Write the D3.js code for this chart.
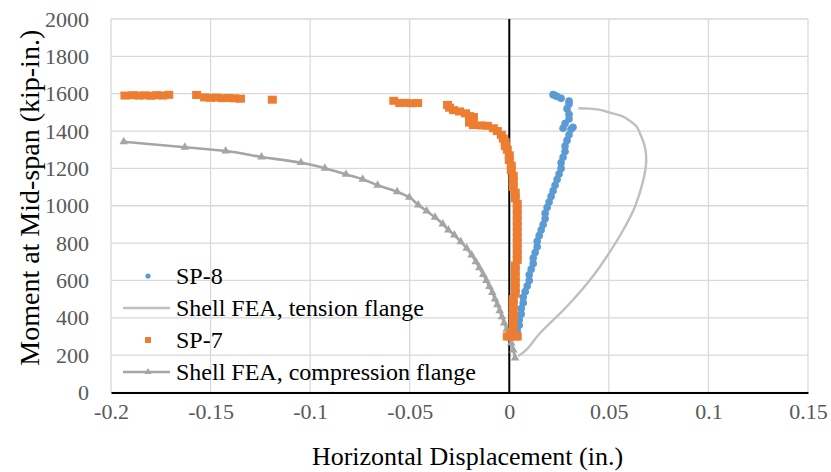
<!DOCTYPE html>
<html>
<head>
<meta charset="utf-8">
<script src="https://cdn.jsdelivr.net/npm/d3@7"></script>
<style>
  body { margin: 0; background: #fff; }
  svg text { font-family: "Liberation Serif", Tinos, "Times New Roman", "DejaVu Serif", serif; }
</style>
</head>
<body>
<div id="chart"></div>
<script>
// x = horizontal displacement (in.), m = moment (kip-in.)
var sp8X = [0.003, 0.004, 0.005, 0.005, 0.006, 0.006, 0.007, 0.007, 0.008, 0.009, 0.010, 0.010, 0.011, 0.012, 0.012, 0.013, 0.014, 0.014, 0.015, 0.016, 0.017, 0.018, 0.018, 0.019, 0.020, 0.021, 0.022, 0.023, 0.024, 0.025, 0.026, 0.026, 0.027, 0.028, 0.028, 0.029, 0.030, 0.031, 0.032, 0.027, 0.028, 0.030, 0.030, 0.029, 0.030, 0.030, 0.026, 0.024, 0.022, 0.023];
var sp8M = [300, 330, 360, 390, 420, 450, 480, 510, 540, 570, 600, 630, 660, 690, 720, 750, 780, 810, 840, 870, 900, 930, 960, 990, 1020, 1050, 1080, 1110, 1140, 1170, 1200, 1230, 1260, 1290, 1320, 1350, 1380, 1410, 1420, 1415, 1440, 1465, 1490, 1520, 1545, 1560, 1575, 1585, 1595, 1590];

var sp7X = [-0.193, -0.189, -0.186, -0.183, -0.180, -0.177, -0.174, -0.171, -0.157, -0.153, -0.150, -0.147, -0.144, -0.141, -0.138, -0.135, -0.119, -0.058, -0.055, -0.052, -0.049, -0.046, -0.031, -0.030, -0.028, -0.025, -0.022, -0.020, -0.018, -0.019, -0.020, -0.018, -0.014, -0.011, -0.008, -0.006, -0.004, -0.003, -0.002, -0.002, -0.001, 0.000, 0.000, 0.001, 0.001, 0.002, 0.002, 0.002, 0.003, 0.003, 0.004, 0.004, 0.004, 0.004, 0.004, 0.004, 0.004, 0.004, 0.004, 0.004, 0.004, 0.003, 0.003, 0.003, 0.003, 0.003, 0.003, 0.002, 0.002, 0.002, 0.002, 0.002, 0.002, 0.001, 0.000, -0.001, 0.003, 0.004];
var sp7M = [1590, 1592, 1590, 1591, 1589, 1592, 1590, 1594, 1593, 1580, 1578, 1579, 1576, 1577, 1575, 1573, 1568, 1562, 1550, 1551, 1549, 1550, 1540, 1525, 1512, 1505, 1495, 1480, 1475, 1460, 1445, 1432, 1430, 1428, 1415, 1400, 1380, 1360, 1340, 1320, 1300, 1270, 1245, 1215, 1190, 1160, 1130, 1100, 1070, 1040, 1010, 980, 950, 920, 890, 860, 830, 800, 770, 740, 710, 680, 650, 620, 590, 560, 530, 500, 470, 440, 410, 380, 350, 320, 300, 300, 300, 300];

var tensionX = [0.0045, 0.0085, 0.0154, 0.0288, 0.0405, 0.0489, 0.0572, 0.0631, 0.0673, 0.0687, 0.0685, 0.0676, 0.0655, 0.0640, 0.0605, 0.0572, 0.0510, 0.0456, 0.0400, 0.0347];
var tensionM = [195, 228, 317, 459, 602, 727, 870, 995, 1138, 1227, 1290, 1334, 1390, 1423, 1455, 1477, 1497, 1513, 1520, 1522];

var compX = [-0.1936, -0.1629, -0.1424, -0.1244, -0.1046, -0.0926, -0.0820, -0.0736, -0.0661, -0.0563, -0.0502, -0.0457, -0.0415, -0.0373, -0.0334, -0.0306, -0.0276, -0.0244, -0.0214, -0.0189, -0.0168, -0.0150, -0.0131, -0.0115, -0.0100, -0.0085, -0.0072, -0.0060, -0.0048, -0.0037, -0.0026, -0.0013, 0.0000, 0.0010, 0.0020, 0.0029];
var compM = [1343, 1313, 1293, 1261, 1231, 1201, 1168, 1142, 1110, 1075, 1045, 1004, 972, 938, 902, 870, 843, 807, 772, 736, 700, 668, 632, 600, 567, 535, 500, 470, 438, 405, 372, 338, 300, 265, 228, 185];

var xTicks = [-0.2, -0.15, -0.1, -0.05, 0, 0.05, 0.1, 0.15];
var xTickLabels = ["-0.2", "-0.15", "-0.1", "-0.05", "0", "0.05", "0.1", "0.15"];
var yTicks = [0, 200, 400, 600, 800, 1000, 1200, 1400, 1600, 1800, 2000];

var legendNames = ["SP-8", "Shell FEA, tension flange", "SP-7", "Shell FEA, compression flange"];

var W = 831, H = 472;
var margin = { top: 19, right: 23, bottom: 79.5, left: 111 },
    width = W - margin.left - margin.right,
    height = H - margin.top - margin.bottom;

var blue = "#5b9bd5", orange = "#ed7d31", gray = "#a5a5a5";
var serif = "'Liberation Serif', Tinos, 'Times New Roman', 'DejaVu Serif', serif";

var svg = d3.select("#chart")
    .append("svg")
    .attr("width", W)
    .attr("height", H)
    .append("g")
    .attr("transform", "translate(" + margin.left + "," + margin.top + ")");

var x = d3.scaleLinear().domain([-0.2, 0.15]).range([0, width]);
var y = d3.scaleLinear().domain([0, 2000]).range([height, 0]);

function pairs(xs, ms) {
    return xs.map(function (v, i) { return [v, ms[i]]; });
}

//Gridlines
svg.append("g")
    .selectAll("line.v")
    .data(xTicks)
    .enter().append("line")
    .attr("x1", function (d) { return x(d); })
    .attr("x2", function (d) { return x(d); })
    .attr("y1", 0).attr("y2", height)
    .attr("stroke", "#d9d9d9").attr("stroke-width", 1.3);
svg.append("g")
    .selectAll("line.h")
    .data(yTicks)
    .enter().append("line")
    .attr("x1", 0).attr("x2", width)
    .attr("y1", function (d) { return y(d); })
    .attr("y2", function (d) { return y(d); })
    .attr("stroke", "#d9d9d9").attr("stroke-width", 1.3);

//X axis
var xAxis = svg.append("g")
    .attr("transform", "translate(0," + height + ")")
    .call(d3.axisBottom(x).tickValues(xTicks).tickSize(0).tickPadding(11)
        .tickFormat(function (d, i) { return xTickLabels[i]; }));
xAxis.attr("font-family", serif).attr("font-size", 22);
xAxis.select(".domain").attr("stroke", "#000").attr("stroke-width", 2);
xAxis.selectAll("text").attr("fill", "#595959");

//Y axis at x = 0
var yAxis = svg.append("g")
    .call(d3.axisLeft(y).tickValues(yTicks).tickSize(0).tickPadding(22)
        .tickFormat(d3.format("d")));
yAxis.attr("font-family", serif).attr("font-size", 22);
yAxis.select(".domain").remove();
yAxis.selectAll("text").attr("fill", "#595959");
svg.append("line")
    .attr("x1", x(0)).attr("x2", x(0))
    .attr("y1", 0).attr("y2", height)
    .attr("stroke", "#000").attr("stroke-width", 2);

//Shell FEA, compression flange
svg.append("path")
    .datum(pairs(compX, compM))
    .attr("fill", "none")
    .attr("stroke", gray)
    .attr("stroke-width", 2.6)
    .attr("d", d3.line().curve(d3.curveMonotoneY)
        .x(function (d) { return x(d[0]); })
        .y(function (d) { return y(d[1]); }));
svg.append("g")
    .selectAll("path")
    .data(pairs(compX, compM))
    .enter().append("path")
    .attr("transform", function (d) { return "translate(" + x(d[0]) + "," + y(d[1]) + ")"; })
    .attr("d", d3.symbol().type(d3.symbolTriangle).size(32))
    .attr("fill", gray);

//Shell FEA, tension flange
svg.append("path")
    .datum(pairs(tensionX, tensionM))
    .attr("fill", "none")
    .attr("stroke", "#bfbfbf")
    .attr("stroke-width", 2.4)
    .attr("d", d3.line().curve(d3.curveCatmullRom)
        .x(function (d) { return x(d[0]); })
        .y(function (d) { return y(d[1]); }));

//SP-8
svg.append("g")
    .selectAll("circle")
    .data(pairs(sp8X, sp8M))
    .enter().append("circle")
    .attr("cx", function (d) { return x(d[0]); })
    .attr("cy", function (d) { return y(d[1]); })
    .attr("r", 3.8)
    .attr("fill", blue);

//SP-7
svg.append("g")
    .selectAll("rect")
    .data(pairs(sp7X, sp7M))
    .enter().append("rect")
    .attr("x", function (d) { return x(d[0]) - 4.5; })
    .attr("y", function (d) { return y(d[1]) - 4; })
    .attr("width", 9)
    .attr("height", 8)
    .attr("fill", orange);

//Legend
var legend = svg.append("g")
    .attr("font-family", serif)
    .attr("transform", "translate(" + (123 - margin.left) + "," + (276 - margin.top) + ")");
var rows = legend.selectAll("g")
    .data(legendNames)
    .enter().append("g")
    .attr("transform", function (d, i) { return "translate(0," + (i * 32) + ")"; });
rows.append("text")
    .attr("x", 53)
    .attr("dy", "0.35em")
    .attr("font-size", 24)
    .attr("fill", "#000")
    .text(function (d) { return d; });
rows.filter(function (d, i) { return i % 2 === 1; })
    .append("line")
    .attr("x1", 0).attr("x2", 47)
    .attr("stroke", function (d, i) { return i === 0 ? "#bfbfbf" : gray; })
    .attr("stroke-width", 2.4);
rows.filter(function (d, i) { return i === 0; })
    .append("circle").attr("cx", 25).attr("r", 2.6).attr("fill", blue);
rows.filter(function (d, i) { return i === 2; })
    .append("rect").attr("x", 22).attr("y", -3).attr("width", 6).attr("height", 6).attr("fill", orange);
rows.filter(function (d, i) { return i === 3; })
    .append("path").attr("transform", "translate(25,0)")
    .attr("d", d3.symbol().type(d3.symbolTriangle).size(22)).attr("fill", gray);

//Axis titles
svg.append("text")
    .attr("x", width / 2 + 8)
    .attr("y", height + 72)
    .attr("text-anchor", "middle")
    .attr("font-family", serif)
    .attr("font-size", 26)
    .attr("fill", "#000")
    .text("Horizontal Displacement (in.)");
svg.append("text")
    .attr("transform", "rotate(-90)")
    .attr("x", -(height / 2) + 8)
    .attr("y", -82)
    .attr("dy", "0.35em")
    .attr("text-anchor", "middle")
    .attr("font-family", serif)
    .attr("font-size", 28)
    .attr("fill", "#000")
    .text("Moment at Mid-span (kip-in.)");
</script>
</body>
</html>
